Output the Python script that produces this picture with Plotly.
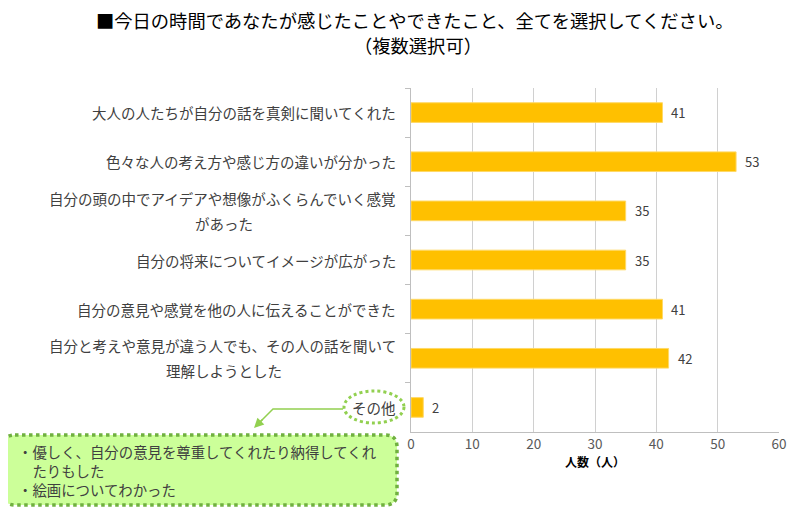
import plotly.graph_objects as go

# data
categories = [
    "大人の人たちが自分の話を真剣に聞いてくれた",
    "色々な人の考え方や感じ方の違いが分かった",
    "自分の頭の中でアイデアや想像がふくらんでいく感覚<br>があった",
    "自分の将来についてイメージが広がった",
    "自分の意見や感覚を他の人に伝えることができた",
    "自分と考えや意見が違う人でも、その人の話を聞いて<br>理解しようとした",
    "その他",
]
counts = [41, 53, 35, 35, 41, 42, 2]
x_ticks = [0, 10, 20, 30, 40, 50, 60]

title_line1 = "■今日の時間であなたが感じたことやできたこと、全てを選択してください。"
title_line2 = "（複数選択可）"
x_title = "<b>人数（人）</b>"
note_lines = [
    "・優しく、自分の意見を尊重してくれたり納得してくれ",
    "　たりもした",
    "・絵画についてわかった",
]

W, H = 800, 507
OX, OY = 8, 8  # page offset of the figure inside the browser
L, R, T, B = 411, 779, 88, 432
FONT = "Noto Sans CJK JP"
LABEL_SIZE = 14.5
LIGHT_GREEN = "#92d050"
GREEN = "#70b040"


def px(x):
    return (x - L) / (R - L)


def py(y):
    return (B - y) / (B - T)


fig = go.Figure()
fig.add_trace(go.Bar(
    x=counts, y=categories, orientation="h",
    marker=dict(color="#ffc000", line=dict(color="#ffd966", width=1)),
    width=0.4, hoverinfo="x+y",
))

fig.update_layout(
    width=W, height=H,
    margin=dict(l=L - OX, r=W - R + OX, t=T - OY, b=H - B + OY),
    paper_bgcolor="white", plot_bgcolor="white",
    showlegend=False,
    font=dict(family=FONT, color="#404040"),
    xaxis=dict(
        range=[0, 60], tickvals=x_ticks, showgrid=True, gridcolor="#d0d0d0",
        gridwidth=1, zeroline=False, showline=True, linecolor="#bfbfbf",
        linewidth=1, ticks="", tickfont=dict(size=13.5, color="#595959"),
        title=dict(text=x_title, font=dict(size=12, color="#000000"), standoff=6),
    ),
    yaxis=dict(
        autorange="reversed", showline=True, linecolor="#bfbfbf", linewidth=1,
        ticks="outside", tickson="boundaries", ticklen=5, tickcolor="#bfbfbf",
        showticklabels=False,
    ),
)

# category labels: first line right-aligned at the axis, later lines centred under it
for cat in categories:
    lines = cat.split("<br>")
    n = len(lines)
    mid = 398 - len(lines[0]) * LABEL_SIZE / 2
    for i, ln in enumerate(lines):
        fig.add_annotation(
            text=ln, xref="paper", yref="y", y=cat,
            x=px(mid) if i > 0 else px(398),
            xanchor="center" if i > 0 else "right",
            yanchor="middle", showarrow=False,
            yshift=(n - 1) * 12.5 - i * 25,
            font=dict(size=LABEL_SIZE, color="#404040", family=FONT),
        )

# value labels
for cat, v in zip(categories, counts):
    fig.add_annotation(
        text=str(v), x=v, y=cat, xref="x", yref="y", xanchor="left",
        yanchor="middle", xshift=7, showarrow=False,
        font=dict(size=13, color="#404040", family=FONT),
    )

# title
fig.add_annotation(
    text=title_line1, xref="paper", yref="paper", x=px(414), y=py(20),
    xanchor="center", yanchor="middle", showarrow=False,
    font=dict(size=18.3, color="#000000", family=FONT),
)
fig.add_annotation(
    text=title_line2, xref="paper", yref="paper", x=px(418), y=py(45),
    xanchor="center", yanchor="middle", showarrow=False,
    font=dict(size=18.3, color="#000000", family=FONT),
)

# dotted oval around "その他"
fig.add_shape(
    type="circle", xref="paper", yref="paper",
    x0=px(344), x1=px(404), y0=py(391), y1=py(423),
    line=dict(color=LIGHT_GREEN, width=3, dash="dot"), layer="above",
)

# connector line + arrow head
fig.add_shape(
    type="path", xref="paper", yref="paper",
    path="M {} {} L {} {} L {} {}".format(px(343), py(409), px(273), py(409), px(257), py(425)),
    line=dict(color=LIGHT_GREEN, width=1.5),
)
fig.add_annotation(
    xref="paper", yref="paper", axref="pixel", ayref="pixel",
    x=px(254), y=py(428), ax=10, ay=-10, text="",
    showarrow=True, arrowhead=2, arrowsize=1.3, arrowwidth=1.5, arrowcolor=LIGHT_GREEN,
)

# rounded note box
x0, x1, y0, y1, r = px(3), px(397), py(435), py(505), 12
rx = r / (R - L)
ry = r / (B - T)
box = (
    f"M {x0 + rx} {y0} L {x1 - rx} {y0} Q {x1} {y0} {x1} {y0 - ry} "
    f"L {x1} {y1 + ry} Q {x1} {y1} {x1 - rx} {y1} "
    f"L {x0 + rx} {y1} Q {x0} {y1} {x0} {y1 + ry} "
    f"L {x0} {y0 - ry} Q {x0} {y0} {x0 + rx} {y0} Z"
)
fig.add_shape(
    type="path", xref="paper", yref="paper", path=box,
    fillcolor="#ccff99", line=dict(color=GREEN, width=3.5, dash="dot"), layer="above",
)
for i, ln in enumerate(note_lines):
    fig.add_annotation(
        text=ln, xref="paper", yref="paper",
        x=px(16), y=py(451 + i * 19), xanchor="left", yanchor="middle",
        showarrow=False, font=dict(size=14.4, color="#404040", family=FONT),
    )

fig.write_html("out.html")
